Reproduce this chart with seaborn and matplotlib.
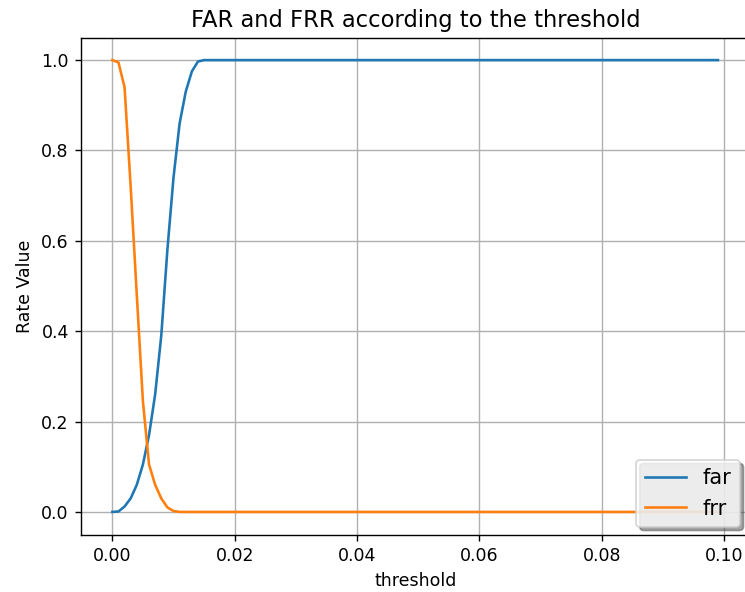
import matplotlib
matplotlib.use("Agg")
import matplotlib.pyplot as plt
import seaborn as sns
import pandas as pd

# thresholds 0.000 ... 0.099
thresholds = [i / 1000 for i in range(100)]

far_head = [0.0, 0.001, 0.012, 0.03, 0.06, 0.105, 0.17, 0.26, 0.39, 0.58,
            0.74, 0.86, 0.93, 0.975, 0.997, 1.0]
frr_head = [1.0, 0.995, 0.94, 0.72, 0.48, 0.245, 0.105, 0.06, 0.03, 0.01,
            0.002, 0.0]

far = far_head + [1.0] * (len(thresholds) - len(far_head))
frr = frr_head + [0.0] * (len(thresholds) - len(frr_head))

title = "FAR and FRR according to the threshold"
xlabel = "threshold"
ylabel = "Rate Value"

df = pd.DataFrame({"threshold": thresholds, "far": far, "frr": frr})

dpi = 125
fig = plt.figure(figsize=(745 / dpi, 592 / dpi), dpi=dpi)
ax = fig.add_axes([81 / 745, 0.0971, 670 / 745, 0.8395])

sns.lineplot(data=df, x="threshold", y="far", ax=ax, color="#1f77b4",
             label="far", linewidth=1.5)
sns.lineplot(data=df, x="threshold", y="frr", ax=ax, color="#ff7f0e",
             label="frr", linewidth=1.5)

ax.set_xlim(-0.00512, 0.10440)
ax.set_ylim(-0.05, 1.05)
ax.set_xticks([0.0, 0.02, 0.04, 0.06, 0.08, 0.10])
ax.set_xticklabels(["0.00", "0.02", "0.04", "0.06", "0.08", "0.10"])
ax.set_yticks([0.0, 0.2, 0.4, 0.6, 0.8, 1.0])
ax.set_yticklabels(["0.0", "0.2", "0.4", "0.6", "0.8", "1.0"])
ax.grid(True, color="#b0b0b0", linewidth=0.8)
ax.spines["right"].set_visible(False)
ax.set_title(title, fontsize=13)
ax.set_xlabel(xlabel)
ax.set_ylabel(ylabel)

leg = ax.legend(loc="lower right", shadow=True, fancybox=True,
                framealpha=0.8, fontsize=12, borderaxespad=0.0)
# place legend's lower-right corner at pixel (740, 527)
leg.set_bbox_to_anchor(((740 - 81) / 670, (534.5 - 527) / 497), transform=ax.transAxes)

fig.savefig("out.png", dpi=dpi)
